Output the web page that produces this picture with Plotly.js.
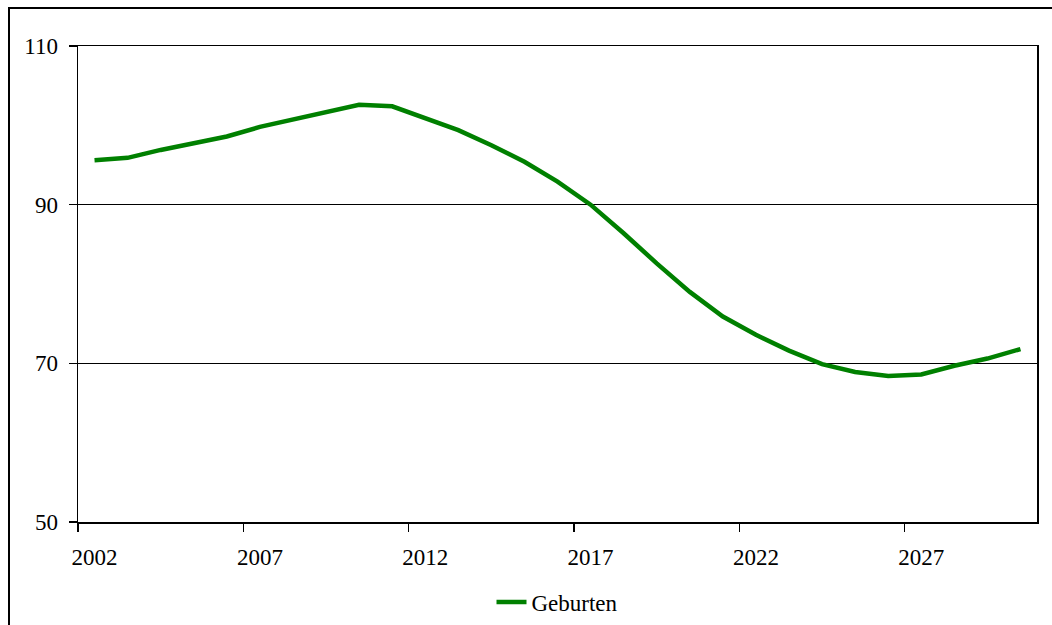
<!DOCTYPE html>
<html>
<head>
<meta charset="utf-8">
<script src="https://cdn.plot.ly/plotly-3.0.1.min.js"></script>
<style>
  html, body { margin: 0; padding: 0; background: #ffffff; }
  #wrap { position: relative; width: 1052px; height: 625px; overflow: hidden; }
  #chart { position: absolute; left: 0; top: 0; width: 1052px; height: 625px; }
  #frame { position: absolute; left: 8px; top: 7px; width: 1100px; height: 700px;
           border-left: 2px solid #000; border-top: 2px solid #000; pointer-events: none; }
</style>
</head>
<body>
<div id="wrap">
  <div id="chart"></div>
  <div id="frame"></div>
</div>
<script>
// Jahre 2002 bis 2030
const years = ['2002','2003','2004','2005','2006','2007','2008','2009','2010','2011',
               '2012','2013','2014','2015','2016','2017','2018','2019','2020','2021',
               '2022','2023','2024','2025','2026','2027','2028','2029','2030'];

// Geburten (Index)
const geburten = [95.6, 95.9, 96.9, 97.7, 98.6, 99.8, 100.7, 101.6, 102.6, 102.4,
                  100.9, 99.4, 97.5, 95.4, 92.9, 90.0, 86.4, 82.6, 79.0, 75.9,
                  73.6, 71.6, 69.9, 68.9, 68.4, 68.6, 69.7, 70.6, 71.8];

const seriesName = 'Geburten';
const yTicks = [50, 70, 90, 110];

const font = { family: '"Liberation Serif", "Times New Roman", serif', size: 23, color: '#000' };

const traces = [{
  x: years,
  y: geburten,
  type: 'scatter',
  mode: 'lines',
  name: seriesName,
  line: { color: '#008000', width: 4.5 }
}];

const layout = {
  width: 1052,
  height: 625,
  margin: { l: 78, r: 15, t: 46, b: 103, pad: 0, autoexpand: false },
  paper_bgcolor: 'rgba(0,0,0,0)',
  plot_bgcolor: '#ffffff',
  font: font,
  showlegend: true,
  legend: {
    orientation: 'h',
    x: 0.5, xanchor: 'center',
    y: -0.168, yanchor: 'middle',
    font: font,
    bgcolor: 'rgba(0,0,0,0)'
  },
  xaxis: {
    type: 'category',
    automargin: false,
    tickmode: 'linear',
    tick0: 0,
    dtick: 5,
    tickangle: 0,
    tickson: 'boundaries',
    ticks: 'outside',
    ticklen: 8,
    tickwidth: 1.5,
    tickcolor: '#000',
    showgrid: false,
    showline: true,
    linecolor: '#000',
    linewidth: 1.5,
    mirror: true,
    zeroline: false,
    range: [-0.5, years.length - 0.5],
    tickfont: font,
    ticklabelstandoff: 14
  },
  yaxis: {
    automargin: false,
    range: [50, 110],
    tickmode: 'array',
    tickvals: yTicks,
    ticktext: yTicks.map(String),
    ticks: 'outside',
    ticklen: 8,
    tickwidth: 1.5,
    tickcolor: '#000',
    showgrid: true,
    gridcolor: '#000',
    gridwidth: 1,
    showline: true,
    linecolor: '#000',
    linewidth: 1.5,
    mirror: true,
    zeroline: false,
    tickfont: font,
    ticklabelstandoff: 6
  }
};

Plotly.newPlot('chart', traces, layout, { staticPlot: true, displayModeBar: false });
</script>
</body>
</html>
